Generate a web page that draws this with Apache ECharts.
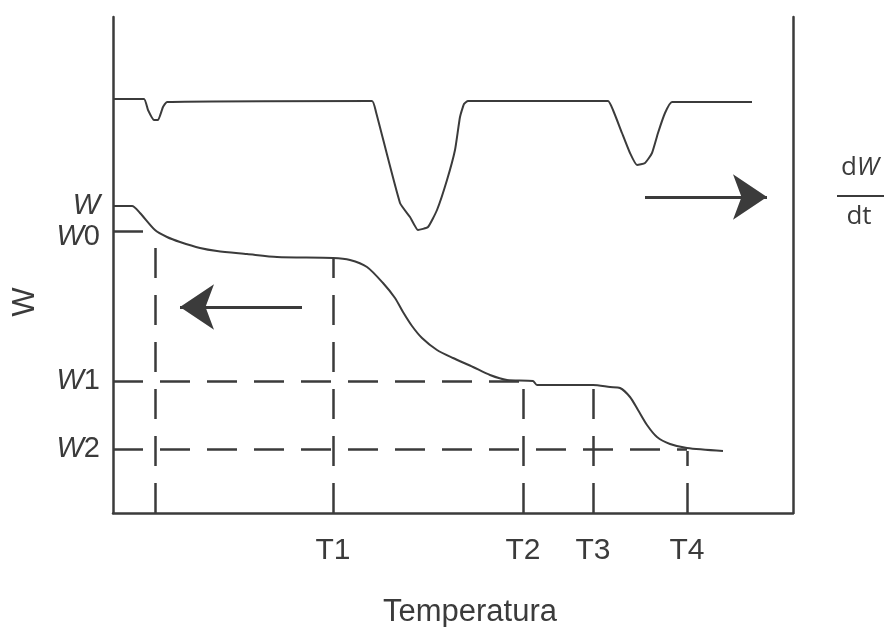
<!DOCTYPE html>
<html>
<head>
<meta charset="utf-8">
<script src="https://cdn.jsdelivr.net/npm/echarts@6/dist/echarts.min.js"></script>
<style>
  html, body { margin: 0; padding: 0; background: #fff; }
  #chart { width: 886px; height: 627px; }
</style>
</head>
<body>
<div id="chart"></div>
<script>
// TG curve (weight vs temperature), arbitrary units
const tgaTemp   = [0, 19, 27, 42, 54, 67, 87, 104, 134, 164, 220, 237, 254, 270, 282, 290, 299, 309, 324, 340, 360, 377, 394, 420, 424, 480, 497, 507, 517, 525, 534, 544, 557, 574, 610];
const tgaWeight = [307, 307, 300, 283, 276, 271, 265, 262, 259, 256, 255, 253, 246, 230, 215, 201, 187, 175, 163, 155, 146, 138, 133, 132, 128, 128, 126, 125, 116, 103, 88, 76, 69, 65, 62];

// DTG curve (dW/dt vs temperature)
const dtgTemp = [0, 31, 35, 41, 45, 50, 54, 259, 263, 287, 297, 305, 315, 324, 334, 342, 347, 351, 355, 495, 500, 509, 517, 524, 532, 539, 545, 552, 559, 639];
const dtgRate = [414, 414, 403, 393, 393, 406, 411, 412, 401, 310, 296, 283, 286, 303, 333, 363, 396, 409, 412, 412, 403, 380, 360, 348, 350, 360, 380, 400, 411, 411];

// tick labels
const tLabels = ['T1', 'T2', 'T3', 'T4'];
const tValues = [220, 410, 480, 574];
const wLabels = ['W', 'W0', 'W1', 'W2'];
const wValues = [307, 282, 132, 64];

// guide lines
const t0 = 42;
const vGuideX   = [t0, 220, 410, 480, 574];
const vGuideTop = [282, 255, 132, 128, 62];
const hGuideY   = [282, 132, 64];
const hGuideEnd = [t0, 410, 574];

// arrows [fromX, toX, y]
const arrowW   = [189, 67, 206];
const arrowDtg = [532, 654, 316];

const ink = '#3b3b3b';
const font = 'Liberation Sans, Arial, sans-serif';

const chart = echarts.init(document.getElementById('chart'));

const guides = [];
vGuideX.forEach((x, i) => guides.push([{coord: [x, 0]}, {coord: [x, vGuideTop[i]]}]));
hGuideY.forEach((y, i) => guides.push([{coord: [0, y]}, {coord: [hGuideEnd[i], y]}]));

const option = {
  animation: false,
  grid: {left: 113, right: 93, top: 17, bottom: 114, containLabel: false, outerBoundsMode: 'none'},
  xAxis: {
    type: 'value', min: 0, max: 680,
    axisLine: {onZero: false, lineStyle: {color: ink, width: 2.5}},
    axisTick: {show: false},
    splitLine: {show: false},
    axisLabel: {
      customValues: tValues,
      formatter: v => tLabels[tValues.indexOf(v)],
      margin: 23, fontSize: 30, color: ink, fontFamily: font
    },
    name: 'Temperatura', nameLocation: 'middle', nameGap: 84,
    nameTextStyle: {fontSize: 31, color: ink, fontFamily: font, padding: [0, 0, 0, 34]}
  },
  yAxis: [{
    type: 'value', min: 0, max: 496, position: 'left',
    axisLine: {show: true, onZero: false, lineStyle: {color: ink, width: 2.5}},
    axisTick: {show: false},
    splitLine: {show: false},
    axisLabel: {
      customValues: wValues,
      margin: 13, color: ink, fontFamily: font,
      formatter: v => {
        const s = wLabels[wValues.indexOf(v)];
        const num = s.slice(1);
        if (s === 'W0') return '{iw|W}{nw|0}';
        return '{i|W}' + (num ? '{n|' + num + '}' : '');
      },
      rich: {
        i: {fontSize: 29, fontStyle: 'italic', color: ink, fontFamily: font},
        n: {fontSize: 29, color: ink, fontFamily: font},
        iw: {fontSize: 29, fontStyle: 'italic', color: ink, fontFamily: font, padding: [12, 0, 0, 0]},
        nw: {fontSize: 29, color: ink, fontFamily: font, padding: [12, 0, 0, 0]}
      }
    },
    name: 'W', nameLocation: 'middle', nameRotate: 90, nameGap: 72,
    nameTextStyle: {fontSize: 31, color: ink, fontFamily: font, padding: [0, 74, 0, 0]}
  }, {
    type: 'value', min: 0, max: 496, position: 'right',
    axisLine: {show: true, onZero: false, lineStyle: {color: ink, width: 2.5}},
    axisTick: {show: false},
    axisLabel: {show: false},
    splitLine: {show: false}
  }],
  graphic: [
    {type: 'text', x: 860, y: 168, style: {
      text: '{d|d}{w|W}', align: 'center', verticalAlign: 'middle',
      rich: {
        d: {fontSize: 26, fill: ink, fontFamily: 'Open Sans'},
        w: {fontSize: 26, fill: ink, fontFamily: 'Open Sans', fontStyle: 'italic'}
      }
    }},
    {type: 'line', shape: {x1: 837, y1: 196, x2: 884, y2: 196}, style: {stroke: ink, lineWidth: 2}},
    {type: 'text', x: 859, y: 217, style: {
      text: 'dt', fontSize: 26, fill: ink, fontFamily: 'Open Sans', align: 'center', verticalAlign: 'middle'
    }}
  ],
  series: [{
    name: 'TG', type: 'line', xAxisIndex: 0, yAxisIndex: 0,
    data: tgaTemp.map((t, i) => [t, tgaWeight[i]]),
    showSymbol: false, smooth: 0.25,
    lineStyle: {color: ink, width: 2}
  }, {
    name: 'DTG', type: 'line', xAxisIndex: 0, yAxisIndex: 1,
    data: dtgTemp.map((t, i) => [t, dtgRate[i]]),
    showSymbol: false, smooth: 0.15,
    lineStyle: {color: ink, width: 2}
  }, {
    name: 'guides', type: 'line', xAxisIndex: 0, yAxisIndex: 0, data: [],
    markLine: {
      silent: true, symbol: ['none', 'none'], label: {show: false},
      lineStyle: {color: ink, width: 2.5, type: [30, 17]},
      data: guides
    }
  }, {
    name: 'arrows', type: 'line', xAxisIndex: 0, yAxisIndex: 0, data: [],
    markLine: {
      silent: true, symbol: ['none', 'arrow'], symbolSize: 34, label: {show: false},
      lineStyle: {color: ink, width: 3, type: 'solid'},
      itemStyle: {color: ink},
      data: [
        [{coord: [arrowW[0], arrowW[2]]}, {coord: [arrowW[1], arrowW[2]]}],
        [{coord: [arrowDtg[0], arrowDtg[2]]}, {coord: [arrowDtg[1], arrowDtg[2]]}]
      ]
    }
  }]
};

chart.setOption(option);
</script>
</body>
</html>
